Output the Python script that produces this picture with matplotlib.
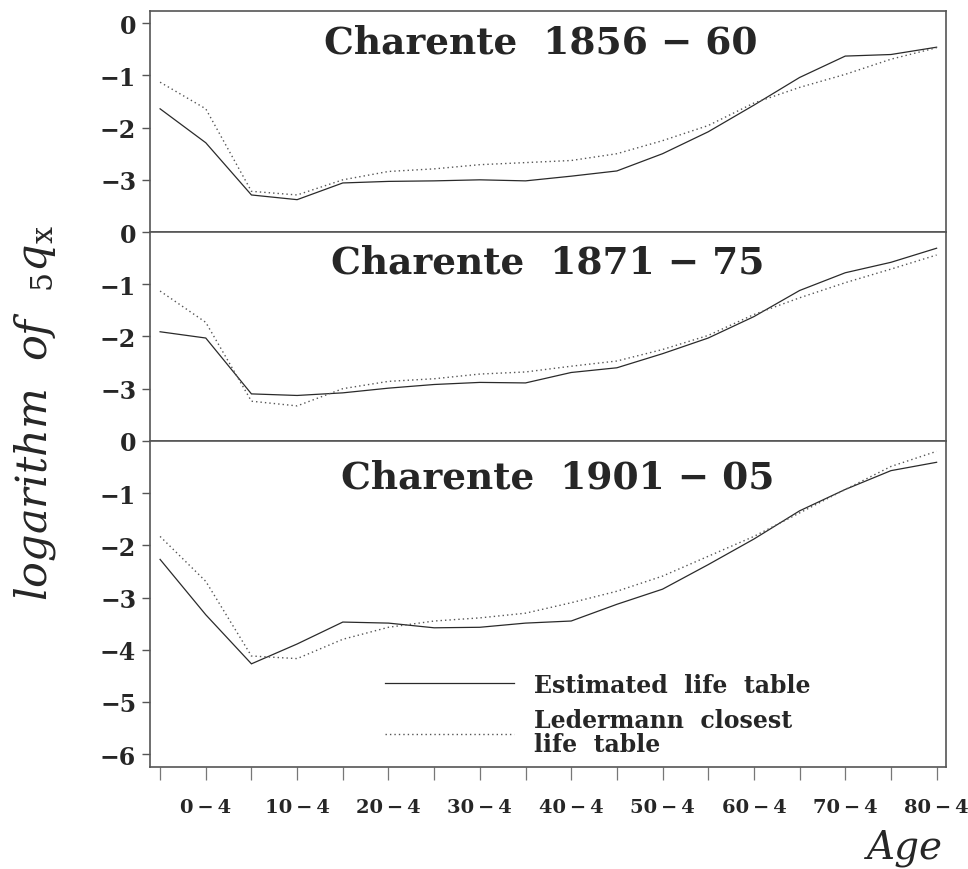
import numpy as np
import matplotlib
matplotlib.use("Agg")
import matplotlib.pyplot as plt
from matplotlib.lines import Line2D

# ─────────────────────────────────────────
# Data: log of 5q_x
# ─────────────────────────────────────────
age_groups = list(range(18))          # 0, 5, 10, ... 85 (one point per tick)
x_tick_labels = ["", "0\u2009−\u20094", "", "10\u2009−\u20094", "",
                 "20\u2009−\u20094", "", "30\u2009−\u20094", "",
                 "40\u2009−\u20094", "", "50\u2009−\u20094", "",
                 "60\u2009−\u20094", "", "70\u2009−\u20094", "",
                 "80\u2009−\u20094"]

titles = ["Charente  1856 − 60", "Charente  1871 − 75", "Charente  1901 − 05"]

est_1856 = [-1.64, -2.29, -3.29, -3.38, -3.06, -3.03, -3.02, -3.00, -3.02,
            -2.93, -2.83, -2.50, -2.08, -1.57, -1.04, -0.63, -0.60, -0.46]
led_1856 = [-1.13, -1.64, -3.22, -3.29, -3.00, -2.84, -2.79, -2.71, -2.67,
            -2.63, -2.50, -2.25, -1.96, -1.53, -1.23, -0.98, -0.69, -0.47]

est_1871 = [-1.91, -2.03, -3.10, -3.13, -3.08, -2.99, -2.92, -2.88, -2.89,
            -2.69, -2.60, -2.33, -2.03, -1.62, -1.12, -0.78, -0.58, -0.31]
led_1871 = [-1.13, -1.73, -3.24, -3.33, -3.00, -2.86, -2.81, -2.72, -2.68,
            -2.57, -2.47, -2.25, -1.98, -1.58, -1.26, -0.97, -0.71, -0.44]

est_1901 = [-2.27, -3.33, -4.27, -3.89, -3.47, -3.49, -3.58, -3.57, -3.49,
            -3.45, -3.13, -2.84, -2.37, -1.88, -1.34, -0.93, -0.57, -0.41]
led_1901 = [-1.83, -2.69, -4.12, -4.17, -3.80, -3.57, -3.45, -3.39, -3.30,
            -3.10, -2.88, -2.59, -2.21, -1.83, -1.38, -0.93, -0.49, -0.20]

y_ticks = [[0, -1, -2, -3], [0, -1, -2, -3], [0, -1, -2, -3, -4, -5, -6]]
y_limits = [(-4.0, 0.23), (-4.0, 0.0), (-6.25, 0.0)]

# ─────────────────────────────────────────
# Figure
# ─────────────────────────────────────────
SERIF = "DejaVu Serif"
plt.rcParams["mathtext.fontset"] = "dejavuserif"
FRAME = "#555555"
LINE = "#2a2a2a"
DOTS = "#555555"
TEXT = "#262626"

fig = plt.figure(figsize=(9.68, 8.70), dpi=100)
heights = [lim[1] - lim[0] for lim in y_limits]
gs = fig.add_gridspec(3, 1, height_ratios=heights, hspace=0,
                      left=0.155, right=0.977, top=0.986, bottom=0.117)

series = [(est_1856, led_1856), (est_1871, led_1871), (est_1901, led_1901)]
title_x = [0.218, 0.228, 0.240]
axes = []
for i, (est, led) in enumerate(series):
    ax = fig.add_subplot(gs[i], sharex=axes[0] if axes else None)
    axes.append(ax)
    ax.plot(age_groups, est, color=LINE, lw=0.9, solid_joinstyle="miter")
    ax.plot(age_groups, led, color=DOTS, lw=1.0, linestyle=(0, (1, 2.2)))
    ax.set_ylim(*y_limits[i])
    ax.set_yticks(y_ticks[i])
    ax.set_yticklabels([f"{t}".replace("-", "−") for t in y_ticks[i]],
                       fontfamily=SERIF, fontweight="bold", fontsize=17,
                       color=TEXT)
    ax.tick_params(axis="y", direction="out", length=6, width=1,
                   color=FRAME, pad=4)
    for s in ax.spines.values():
        s.set_color(FRAME)
        s.set_linewidth(1.2)
    ax.text(title_x[i], 0.945, titles[i], transform=ax.transAxes,
            ha="left", va="top", fontfamily=SERIF, fontweight="bold",
            fontsize=27, color=TEXT)
    if i < 2:
        ax.tick_params(axis="x", which="both", bottom=False, labelbottom=False)

ax = axes[-1]
ax.set_xlim(-0.22, 17.2)
ax.set_xticks(age_groups)
ax.set_xticklabels(x_tick_labels, fontfamily=SERIF, fontweight="bold",
                   fontsize=14, color=TEXT)
ax.tick_params(axis="x", direction="out", length=9, width=0.9,
               color="#777777", pad=13)

# legend
handles = [Line2D([], [], color=LINE, lw=0.9),
           Line2D([], [], color=DOTS, lw=1.0, linestyle=(0, (1, 2.2)))]
leg = ax.legend(handles, ["Estimated  life  table",
                          "Ledermann  closest\nlife  table"],
                loc="upper left", bbox_to_anchor=(0.268, 0.355),
                frameon=False, handlelength=5.5, handletextpad=0.85,
                labelspacing=0.5,
                prop={"family": SERIF, "weight": "bold", "size": 17})
for t in leg.get_texts():
    t.set_color(TEXT)
    t.set_linespacing(1.0)

fig.text(0.036, 0.525, r"$\mathit{logarithm\ \ of}\ \ {}_{5}q_{\mathrm{x}}$",
         rotation=90, ha="center", va="center", fontsize=31, color=TEXT)
fig.text(0.935, 0.004, "Age", ha="center", va="bottom", fontfamily=SERIF,
         style="italic", fontsize=28, color=TEXT)

fig.savefig("out.png", dpi=100)
